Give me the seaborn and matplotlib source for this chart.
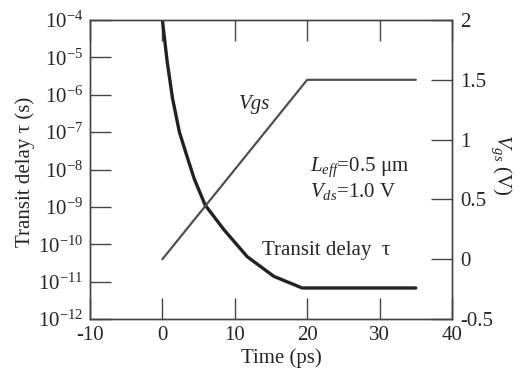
import numpy as np
import pandas as pd
import matplotlib
matplotlib.use("Agg")
import matplotlib.pyplot as plt
import seaborn as sns
from matplotlib.ticker import NullLocator, FixedLocator

# ---- data ----
delay_time_ps = [0, 0.65, 1.4, 2.35, 3.4, 4.4, 5.9, 8.5, 11.7, 15.4, 19.3, 35]
delay_log10_s = [-4, -5.1, -6.1, -7.0, -7.65, -8.25, -8.95, -9.61, -10.33, -10.86, -11.17, -11.17]
vgs_time_ps = [0, 20, 35]
vgs_volts = [0, 1.5, 1.5]

x_ticks = [-10, 0, 10, 20, 30, 40]
left_exps = [-12, -11, -10, -9, -8, -7, -6, -5, -4]
right_ticks = [-0.5, 0, 0.5, 1, 1.5, 2]
right_tick_labels = ["-0.5", "0", "0.5", "1", "1.5", "2"]

sns.set_style("ticks")
plt.rcParams["font.family"] = ["Liberation Serif", "DejaVu Serif"]
plt.rcParams["mathtext.fontset"] = "custom"
plt.rcParams["mathtext.rm"] = "Liberation Serif"
plt.rcParams["mathtext.it"] = "Liberation Serif:italic"

df_delay = pd.DataFrame({"t": delay_time_ps,
                         "tau": [10.0 ** e for e in delay_log10_s]})
df_vgs = pd.DataFrame({"t": vgs_time_ps, "v": vgs_volts})

L, R, T, B = 90, 452, 20, 319
fig = plt.figure(figsize=(5.2, 3.69), dpi=100)
ax = fig.add_axes([L / 520, 1 - B / 369, (R - L) / 520, (B - T) / 369])
ax2 = ax.twinx()

def axc(px, py):
    return (px - L) / (R - L), (B - py) / (B - T)

spine_col = "#444444"
fs = 15

sns.lineplot(data=df_delay, x="t", y="tau", ax=ax, color="#222222",
             linewidth=2.4, sort=False, estimator=None)
ax.set_yscale("log")
ax.set_ylim(1e-12, 1e-4)
ax.set_xlim(-10, 40)

sns.lineplot(data=df_vgs, x="t", y="v", ax=ax2, color="#505050",
             linewidth=1.6, sort=False, estimator=None)
ax2.set_ylim(-0.5, 2)

ax.xaxis.set_major_locator(FixedLocator(x_ticks))
ax.set_xticklabels([str(v) for v in x_ticks], fontsize=fs)
ax.yaxis.set_major_locator(FixedLocator([10.0 ** e for e in left_exps]))
ax.yaxis.set_minor_locator(NullLocator())
ax.set_yticklabels([r"10$^{%d}$" % e for e in left_exps], fontsize=fs)

ax2.set_yticks(right_ticks)
ax2.set_yticklabels(right_tick_labels, fontsize=fs)

ax.tick_params(axis="y", which="major", direction="in", length=15,
               width=1, color=spine_col, right=False, pad=5)
ax.tick_params(axis="x", which="major", direction="in", length=15,
               width=1, color=spine_col, top=True, pad=5)
ax2.tick_params(axis="y", which="major", direction="in", length=15,
                width=1, color=spine_col, pad=6)

for a in (ax, ax2):
    for s in a.spines.values():
        s.set_visible(True)
        s.set_color(spine_col)
        s.set_linewidth(1.0)

ax.set_xlabel("Time (ps)", fontsize=fs, va="center")
ax.xaxis.set_label_coords(*axc(281, 358))
ax.set_ylabel("Transit delay τ (s)", fontsize=fs, va="center")
ax.yaxis.set_label_coords(*axc(25, 172))
ax2.set_ylabel(r"$V_{gs}$ (V)", fontsize=fs, rotation=-90, va="center")
ax2.yaxis.set_label_coords(*axc(501, 165))

ax.text(*axc(255, 105), "Vgs", transform=ax.transAxes, fontsize=fs,
        style="italic", ha="center", va="center")
ax.text(*axc(310, 167), r"$\mathit{L_{eff}}$=0.5 μm",
        transform=ax.transAxes, fontsize=fs, ha="left", va="center")
ax.text(*axc(310, 192), r"$\mathit{V_{ds}}$=1.0 V",
        transform=ax.transAxes, fontsize=fs, ha="left", va="center")
ax.text(*axc(262, 250), "Transit delay  τ",
        transform=ax.transAxes, fontsize=fs, ha="left", va="center")

fig.savefig("out.png", dpi=100)
